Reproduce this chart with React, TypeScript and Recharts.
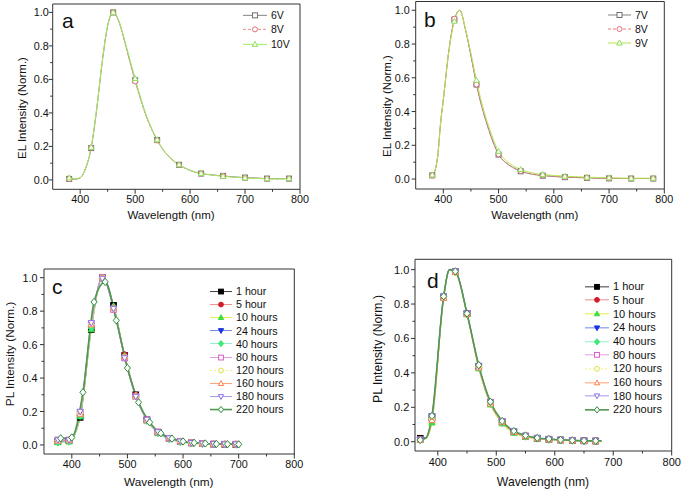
import { LineChart, Line, XAxis, YAxis, ReferenceArea, Legend } from "recharts";

const FONT = "Arial, 'Liberation Sans', Helvetica, sans-serif";
const AXIS = "#333333";
const INK = "#111111";

// shared ticks (minor ones get no label)
const X_TICKS = [400, 450, 500, 550, 600, 650, 700, 750, 800];
const Y_TICKS = [0, 0.1, 0.2, 0.3, 0.4, 0.5, 0.6, 0.7, 0.8, 0.9, 1.0];

// (a) EL spectra, device 1
const NAMES_A = ["6V", "8V", "10V"];
const WL_A = [380, 390, 400, 410, 420, 430, 440, 450, 460, 470, 480, 490, 500, 510, 520, 530, 540, 550, 560, 570, 580, 600, 620, 640, 660, 680, 700, 720, 740, 760, 780];
const EL_A_6V = [0.006, 0.004, 0.012, 0.07, 0.19, 0.42, 0.7, 0.92, 1.0, 0.95, 0.84, 0.715, 0.595, 0.485, 0.385, 0.305, 0.238, 0.185, 0.145, 0.113, 0.09, 0.057, 0.038, 0.03, 0.024, 0.018, 0.014, 0.011, 0.008, 0.007, 0.008];
const EL_A_8V = [0.005, 0.004, 0.013, 0.07, 0.192, 0.42, 0.7, 0.92, 1.0, 0.948, 0.835, 0.71, 0.588, 0.478, 0.38, 0.302, 0.236, 0.184, 0.144, 0.112, 0.089, 0.056, 0.037, 0.029, 0.023, 0.017, 0.013, 0.01, 0.007, 0.006, 0.007];
const EL_A_10V = [0.012, 0.006, 0.014, 0.072, 0.195, 0.425, 0.705, 0.925, 1.0, 0.952, 0.845, 0.725, 0.605, 0.49, 0.388, 0.307, 0.24, 0.186, 0.146, 0.114, 0.091, 0.057, 0.039, 0.029, 0.021, 0.016, 0.012, 0.009, 0.007, 0.006, 0.009];
const MARKS_AB = [380, 420, 460, 500, 540, 580, 620, 660, 700, 740, 780];

// (b) EL spectra, device 2
const NAMES_B = ["7V", "8V", "9V"];
const WL_B = [380, 385, 390, 395, 400, 410, 420, 430, 440, 450, 460, 470, 480, 490, 500, 510, 520, 530, 540, 560, 580, 600, 620, 640, 660, 680, 700, 740, 780];
const EL_B_7V = [0.022, 0.05, 0.14, 0.33, 0.47, 0.76, 0.945, 1.0, 0.885, 0.73, 0.56, 0.425, 0.315, 0.22, 0.145, 0.105, 0.08, 0.061, 0.046, 0.029, 0.02, 0.015, 0.011, 0.009, 0.007, 0.005, 0.004, 0.003, 0.003];
const EL_B_8V = [0.02, 0.05, 0.14, 0.33, 0.47, 0.76, 0.95, 1.0, 0.885, 0.73, 0.56, 0.425, 0.315, 0.22, 0.147, 0.106, 0.081, 0.062, 0.047, 0.03, 0.021, 0.016, 0.012, 0.009, 0.007, 0.005, 0.004, 0.003, 0.003];
const EL_B_9V = [0.025, 0.052, 0.14, 0.33, 0.47, 0.755, 0.935, 1.0, 0.89, 0.745, 0.585, 0.445, 0.335, 0.24, 0.163, 0.12, 0.092, 0.072, 0.056, 0.037, 0.027, 0.021, 0.017, 0.014, 0.011, 0.009, 0.007, 0.005, 0.005];

// (c) PL spectra over time, film 1
const HOURS = ["1 hour", "5 hour", "10 hours", "24 hours", "40 hours", "80 hours", "120 hours", "160 hours", "180 hours", "220 hours"];
const WL_C = [375, 395, 415, 435, 455, 475, 495, 515, 535, 555, 575, 595, 615, 635, 655, 675, 695];
const WL_C_220 = [380, 400, 420, 440, 460, 480, 500, 520, 540, 560, 580, 600, 620, 640, 660, 680, 700];
const PL_C_1H = [0.02, 0.025, 0.165, 0.69, 1.0, 0.835, 0.535, 0.3, 0.15, 0.075, 0.04, 0.02, 0.012, 0.008, 0.005, 0.004, 0.003];
const PL_C_5H = [0.02, 0.025, 0.18, 0.71, 1.0, 0.825, 0.54, 0.3, 0.15, 0.075, 0.04, 0.02, 0.012, 0.008, 0.005, 0.004, 0.003];
const PL_C_10H = [0.015, 0.02, 0.17, 0.69, 0.995, 0.83, 0.53, 0.295, 0.145, 0.072, 0.036, 0.018, 0.01, 0.006, 0.004, 0.003, 0.002];
const PL_C_24H = [0.02, 0.025, 0.185, 0.715, 0.995, 0.82, 0.525, 0.29, 0.148, 0.073, 0.038, 0.02, 0.012, 0.007, 0.005, 0.004, 0.003];
const PL_C_40H = [0.015, 0.02, 0.175, 0.7, 0.995, 0.825, 0.53, 0.295, 0.145, 0.07, 0.035, 0.017, 0.01, 0.006, 0.004, 0.003, 0.002];
const PL_C_80H = [0.03, 0.03, 0.195, 0.725, 1.0, 0.81, 0.52, 0.29, 0.15, 0.078, 0.04, 0.022, 0.013, 0.009, 0.006, 0.005, 0.005];
const PL_C_120H = [0.025, 0.028, 0.19, 0.72, 1.0, 0.815, 0.525, 0.29, 0.15, 0.076, 0.04, 0.021, 0.012, 0.008, 0.006, 0.005, 0.004];
const PL_C_160H = [0.025, 0.03, 0.185, 0.72, 1.0, 0.82, 0.525, 0.295, 0.15, 0.078, 0.04, 0.022, 0.013, 0.009, 0.006, 0.006, 0.006];
const PL_C_180H = [0.03, 0.03, 0.2, 0.73, 0.995, 0.815, 0.52, 0.29, 0.152, 0.078, 0.041, 0.022, 0.013, 0.009, 0.006, 0.005, 0.005];
const PL_C_220H = [0.04, 0.045, 0.315, 0.855, 0.975, 0.745, 0.46, 0.255, 0.135, 0.07, 0.038, 0.021, 0.013, 0.009, 0.006, 0.005, 0.004];

// (d) PL spectra over time, film 2
const WL_D = [370, 380, 390, 410, 420, 430, 450, 470, 490, 510, 530, 550, 570, 590, 610, 630, 650, 670, 680];
const MARKS_D = [370, 390, 410, 430, 450, 470, 490, 510, 530, 550, 570, 590, 610, 630, 650, 670];
const PL_D_1H = [0.02, 0.025, 0.14, 0.84, 1.0, 0.99, 0.745, 0.435, 0.225, 0.115, 0.058, 0.032, 0.02, 0.014, 0.01, 0.007, 0.005, 0.004, 0.004];
const PL_D_5H = [0.015, 0.022, 0.12, 0.835, 1.0, 0.985, 0.74, 0.43, 0.22, 0.11, 0.055, 0.03, 0.018, 0.012, 0.008, 0.006, 0.004, 0.003, 0.003];
const PL_D_10H = [0.01, 0.02, 0.11, 0.835, 1.0, 0.985, 0.74, 0.425, 0.215, 0.105, 0.05, 0.027, 0.016, 0.011, 0.007, 0.005, 0.003, 0.002, 0.002];
const PL_D_24H = [0.012, 0.025, 0.15, 0.845, 1.0, 0.99, 0.745, 0.44, 0.228, 0.118, 0.06, 0.033, 0.02, 0.014, 0.01, 0.007, 0.005, 0.004, 0.004];
const PL_D_40H = [0.01, 0.02, 0.13, 0.84, 1.0, 0.985, 0.74, 0.43, 0.22, 0.11, 0.054, 0.03, 0.018, 0.012, 0.008, 0.006, 0.004, 0.003, 0.003];
const PL_D_80H = [0.012, 0.022, 0.14, 0.84, 1.0, 0.99, 0.745, 0.44, 0.228, 0.118, 0.06, 0.034, 0.021, 0.015, 0.01, 0.008, 0.006, 0.005, 0.005];
const PL_D_120H = [0.01, 0.02, 0.13, 0.84, 1.0, 0.985, 0.742, 0.435, 0.225, 0.115, 0.057, 0.032, 0.02, 0.013, 0.009, 0.007, 0.005, 0.004, 0.004];
const PL_D_160H = [0.01, 0.02, 0.125, 0.835, 1.0, 0.985, 0.74, 0.43, 0.22, 0.112, 0.055, 0.031, 0.019, 0.013, 0.009, 0.007, 0.005, 0.004, 0.004];
const PL_D_180H = [0.012, 0.022, 0.15, 0.845, 1.0, 0.99, 0.745, 0.44, 0.23, 0.12, 0.062, 0.035, 0.021, 0.015, 0.011, 0.008, 0.006, 0.005, 0.005];
const PL_D_220H = [0.01, 0.022, 0.15, 0.845, 1.0, 0.99, 0.745, 0.445, 0.232, 0.12, 0.062, 0.036, 0.022, 0.016, 0.011, 0.008, 0.006, 0.005, 0.005];

type Shape = "square" | "circle" | "up" | "down" | "diamond";
type Style = { stroke: string; dash?: string; width?: number; shape: Shape; mc: string; filled: boolean };

const STYLE_A: Style[] = [
  { stroke: "#858585", shape: "square", mc: "#707070", filled: false },
  { stroke: "#ef8c8c", dash: "3 2", shape: "circle", mc: "#e0707c", filled: false },
  { stroke: "#9cf060", shape: "up", mc: "#8ee05a", filled: false },
];
const STYLE_B: Style[] = [
  { stroke: "#858585", shape: "square", mc: "#707070", filled: false },
  { stroke: "#e77a7a", dash: "3 2", shape: "circle", mc: "#e0707c", filled: false },
  { stroke: "#b5e650", shape: "up", mc: "#8ee05a", filled: false },
];
const STYLE_CD: Style[] = [
  { stroke: "#3c3c3c", shape: "square", mc: "#000000", filled: true },
  { stroke: "#f28c8c", shape: "circle", mc: "#d11a2a", filled: true },
  { stroke: "#e3ee4a", shape: "up", mc: "#3fdc3f", filled: true },
  { stroke: "#6f86e8", shape: "down", mc: "#1a33e0", filled: true },
  { stroke: "#8ff0c8", shape: "diamond", mc: "#3fe87a", filled: true },
  { stroke: "#e49be0", shape: "square", mc: "#d65cc4", filled: false },
  { stroke: "#f3f37a", dash: "2 2", shape: "circle", mc: "#e0e040", filled: false },
  { stroke: "#ffa070", shape: "up", mc: "#ff8050", filled: false },
  { stroke: "#a596f0", shape: "down", mc: "#8c6ee6", filled: false },
  { stroke: "#4f9a4f", width: 1.6, shape: "diamond", mc: "#2f8a3f", filled: false },
];

type Series = Style & { name: string; data: { x: number; y: number }[]; marks?: number[] };

const toPoints = (wl: number[], ys: number[]) => wl.map((x, i) => ({ x, y: ys[i] }));

const SERIES_A: Series[] = [EL_A_6V, EL_A_8V, EL_A_10V].map((ys, i) => ({
  name: NAMES_A[i], data: toPoints(WL_A, ys), marks: MARKS_AB, ...STYLE_A[i],
}));
const SERIES_B: Series[] = [EL_B_7V, EL_B_8V, EL_B_9V].map((ys, i) => ({
  name: NAMES_B[i], data: toPoints(WL_B, ys), marks: MARKS_AB, ...STYLE_B[i],
}));
const SERIES_C: Series[] = [PL_C_1H, PL_C_5H, PL_C_10H, PL_C_24H, PL_C_40H, PL_C_80H, PL_C_120H, PL_C_160H, PL_C_180H, PL_C_220H].map((ys, i) => ({
  name: HOURS[i], data: toPoints(i === 9 ? WL_C_220 : WL_C, ys), ...STYLE_CD[i],
}));
const SERIES_D: Series[] = [PL_D_1H, PL_D_5H, PL_D_10H, PL_D_24H, PL_D_40H, PL_D_80H, PL_D_120H, PL_D_160H, PL_D_180H, PL_D_220H].map((ys, i) => ({
  name: HOURS[i], data: toPoints(WL_D, ys), marks: MARKS_D, ...STYLE_CD[i],
}));

function Marker({ cx, cy, r, s }: { cx: number; cy: number; r: number; s: Style }) {
  const paint = { fill: s.filled ? s.mc : "#ffffff", stroke: s.mc, strokeWidth: 1 };
  if (s.shape === "square") return <rect x={cx - r} y={cy - r} width={2 * r} height={2 * r} {...paint} />;
  if (s.shape === "circle") return <circle cx={cx} cy={cy} r={r} {...paint} />;
  if (s.shape === "up")
    return <polygon points={`${cx},${cy - r * 1.2} ${cx - r * 1.1},${cy + r * 0.8} ${cx + r * 1.1},${cy + r * 0.8}`} {...paint} />;
  if (s.shape === "down")
    return <polygon points={`${cx},${cy + r * 1.2} ${cx - r * 1.1},${cy - r * 0.8} ${cx + r * 1.1},${cy - r * 0.8}`} {...paint} />;
  return <polygon points={`${cx},${cy - r * 1.3} ${cx + r * 1.1},${cy} ${cx},${cy + r * 1.3} ${cx - r * 1.1},${cy}`} {...paint} />;
}

type PanelCfg = {
  left: number; top: number; width: number; height: number;
  margin: { top: number; right: number; bottom: number; left: number };
  yAxisWidth: number; xDomain: [number, number]; yDomain: [number, number];
  letter: string; letterX: number; letterY: number;
  yTitle: string; yTitleX: number; yTitleY: number; xTitleX: number; xTitleY: number;
  titleFs: number; tickFs: number; xLabelDy: number; yLabelGap: number;
  legendX: number; legendY: number; rowH: number; lineW: number; legendFs: number; markR: number; legendR: number;
  series: Series[];
};

const PANELS: PanelCfg[] = [
  {
    left: 0, top: 0, width: 341, height: 240, margin: { top: 4, right: 41, bottom: 20.7, left: 0 },
    yAxisWidth: 52.7, xDomain: [350, 800], yDomain: [-0.056, 1.05],
    letter: "a", letterX: 62, letterY: 28,
    yTitle: "EL Intensity (Norm.)", yTitleX: 22, yTitleY: 108, xTitleX: 171, xTitleY: 215,
    titleFs: 11.5, tickFs: 10.8, xLabelDy: 9.7, yLabelGap: 4,
    legendX: 243, legendY: 7.6, rowH: 14.7, lineW: 24, legendFs: 10.5, markR: 2.5, legendR: 2.5, series: SERIES_A,
  },
  {
    left: 341, top: 0, width: 341, height: 240, margin: { top: 1.5, right: 17.7, bottom: 21, left: 0 },
    yAxisWidth: 74.7, xDomain: [350, 800], yDomain: [-0.059, 1.052],
    letter: "b", letterX: 83, letterY: 27,
    yTitle: "EL Intensity (Norm.)", yTitleX: 45.5, yTitleY: 106, xTitleX: 193.7, xTitleY: 215,
    titleFs: 11.5, tickFs: 10.8, xLabelDy: 10, yLabelGap: 6,
    legendX: 267, legendY: 8, rowH: 14, lineW: 23, legendFs: 10.5, markR: 2.5, legendR: 2.5, series: SERIES_B,
  },
  {
    left: 0, top: 245, width: 341, height: 245, margin: { top: 24, right: 46.7, bottom: 6, left: 0 },
    yAxisWidth: 44, xDomain: [350, 800], yDomain: [-0.054, 1.052],
    letter: "c", letterX: 52, letterY: 49,
    yTitle: "PL Intensity (Norm.)", yTitleX: 10, yTitleY: 109, xTitleX: 168.8, xTitleY: 236.7,
    titleFs: 11.8, tickFs: 10.8, xLabelDy: 10, yLabelGap: 6.5,
    legendX: 210, legendY: 40.1, rowH: 13.1, lineW: 22, legendFs: 10.7, markR: 2.8, legendR: 2.4, series: SERIES_C,
  },
  {
    left: 341, top: 245, width: 341, height: 245, margin: { top: 14.3, right: 10.3, bottom: 9, left: 0 },
    yAxisWidth: 74, xDomain: [361, 800], yDomain: [-0.054, 1.06],
    letter: "d", letterX: 86, letterY: 43,
    yTitle: "PL Intensity (Norm.)", yTitleX: 37, yTitleY: 104, xTitleX: 202, xTitleY: 236.7,
    titleFs: 12.2, tickFs: 11, xLabelDy: 11, yLabelGap: 5.7,
    legendX: 244, legendY: 34.8, rowH: 13.7, lineW: 24, legendFs: 11, markR: 2.8, legendR: 2.4, series: SERIES_D,
  },
];

function LegendBox({ cfg }: { cfg: PanelCfg }) {
  return (
    <div style={{ fontFamily: FONT, fontSize: cfg.legendFs, color: INK }}>
      {cfg.series.map((s) => (
        <div key={s.name} style={{ display: "flex", alignItems: "center", height: cfg.rowH }}>
          <svg width={cfg.lineW} height={cfg.rowH} style={{ display: "block", overflow: "visible" }}>
            <line x1={0} x2={cfg.lineW} y1={cfg.rowH / 2} y2={cfg.rowH / 2} stroke={s.stroke} strokeWidth={s.width ?? 1} strokeDasharray={s.dash} />
            <Marker cx={cfg.lineW / 2} cy={cfg.rowH / 2} r={cfg.legendR} s={s} />
          </svg>
          <span style={{ marginLeft: 4, lineHeight: 1, whiteSpace: "nowrap" }}>{s.name}</span>
        </div>
      ))}
    </div>
  );
}

function Panel({ cfg }: { cfg: PanelCfg }) {
  const xTick = (p: any) => {
    const v = p.payload.value;
    const major = v % 100 === 0;
    return (
      <g>
        <line x1={p.x} x2={p.x} y1={p.y} y2={p.y + (major ? 4.5 : 2.5)} stroke={AXIS} />
        {major && (
          <text x={p.x} y={p.y + cfg.xLabelDy} textAnchor="middle" dominantBaseline="central" fontSize={cfg.tickFs} fontFamily={FONT} fill={INK}>
            {v}
          </text>
        )}
      </g>
    );
  };
  const yTick = (p: any) => {
    const v = p.payload.value;
    const major = Math.round(v * 10) % 2 === 0;
    return (
      <g>
        <line x1={p.x - (major ? 4 : 2.5)} x2={p.x} y1={p.y} y2={p.y} stroke={AXIS} />
        {major && (
          <text x={p.x - cfg.yLabelGap} y={p.y} textAnchor="end" dominantBaseline="central" fontSize={cfg.tickFs} fontFamily={FONT} fill={INK}>
            {v.toFixed(1)}
          </text>
        )}
      </g>
    );
  };
  const yLabel = () => (
    <g>
      <text
        x={cfg.yTitleX} y={cfg.yTitleY} transform={`rotate(-90 ${cfg.yTitleX} ${cfg.yTitleY})`}
        textAnchor="middle" dominantBaseline="central" fontSize={cfg.titleFs} fontFamily={FONT} fill={INK}
      >
        {cfg.yTitle}
      </text>
      <text x={cfg.letterX} y={cfg.letterY} fontSize={21} fontFamily={FONT} fill={INK}>
        {cfg.letter}
      </text>
    </g>
  );
  const xLabel = () => (
    <text x={cfg.xTitleX} y={cfg.xTitleY} textAnchor="middle" dominantBaseline="central" fontSize={cfg.titleFs} fontFamily={FONT} fill={INK}>
      Wavelength (nm)
    </text>
  );

  return (
    <div style={{ position: "absolute", left: cfg.left, top: cfg.top, width: cfg.width, height: cfg.height }}>
      <LineChart width={cfg.width} height={cfg.height} margin={cfg.margin}>
        <XAxis
          dataKey="x" type="number" domain={cfg.xDomain} ticks={X_TICKS} interval={0}
          axisLine={false} tickLine={false} tickSize={0} tickMargin={0} height={30}
          tick={xTick} label={xLabel}
        />
        <YAxis
          type="number" domain={cfg.yDomain} ticks={Y_TICKS} interval={0}
          axisLine={false} tickLine={false} tickSize={0} tickMargin={0} width={cfg.yAxisWidth}
          tick={yTick} label={yLabel}
        />
        <ReferenceArea
          x1={cfg.xDomain[0]} x2={cfg.xDomain[1]} y1={cfg.yDomain[0]} y2={cfg.yDomain[1]}
          fill="none" fillOpacity={0} stroke={AXIS} strokeWidth={1}
        />
        {cfg.series.map((s) => (
          <Line
            key={s.name}
            data={s.data}
            dataKey="y"
            name={s.name}
            type="monotone"
            stroke={s.stroke}
            strokeWidth={s.width ?? 1}
            strokeDasharray={s.dash}
            activeDot={false}
            isAnimationActive={false}
            dot={(p: any) => {
              const key = `${s.name}-${p.index}`;
              if (s.marks && !s.marks.includes(p.payload.x)) return <g key={key} />;
              return (
                <g key={key}>
                  <Marker cx={p.cx} cy={p.cy} r={cfg.markR} s={s} />
                </g>
              );
            }}
          />
        ))}
        <Legend
          layout="vertical" align="center" verticalAlign="middle"
          wrapperStyle={{ left: cfg.legendX, top: cfg.legendY, right: "auto", bottom: "auto", width: "auto", height: "auto" }}
          content={() => <LegendBox cfg={cfg} />}
        />
      </LineChart>
    </div>
  );
}

export default function App() {
  return (
    <div style={{ position: "absolute", left: 0, top: 0, width: 682, height: 490, background: "#ffffff", fontFamily: FONT }}>
      {PANELS.map((cfg) => (
        <Panel key={cfg.letter} cfg={cfg} />
      ))}
    </div>
  );
}
